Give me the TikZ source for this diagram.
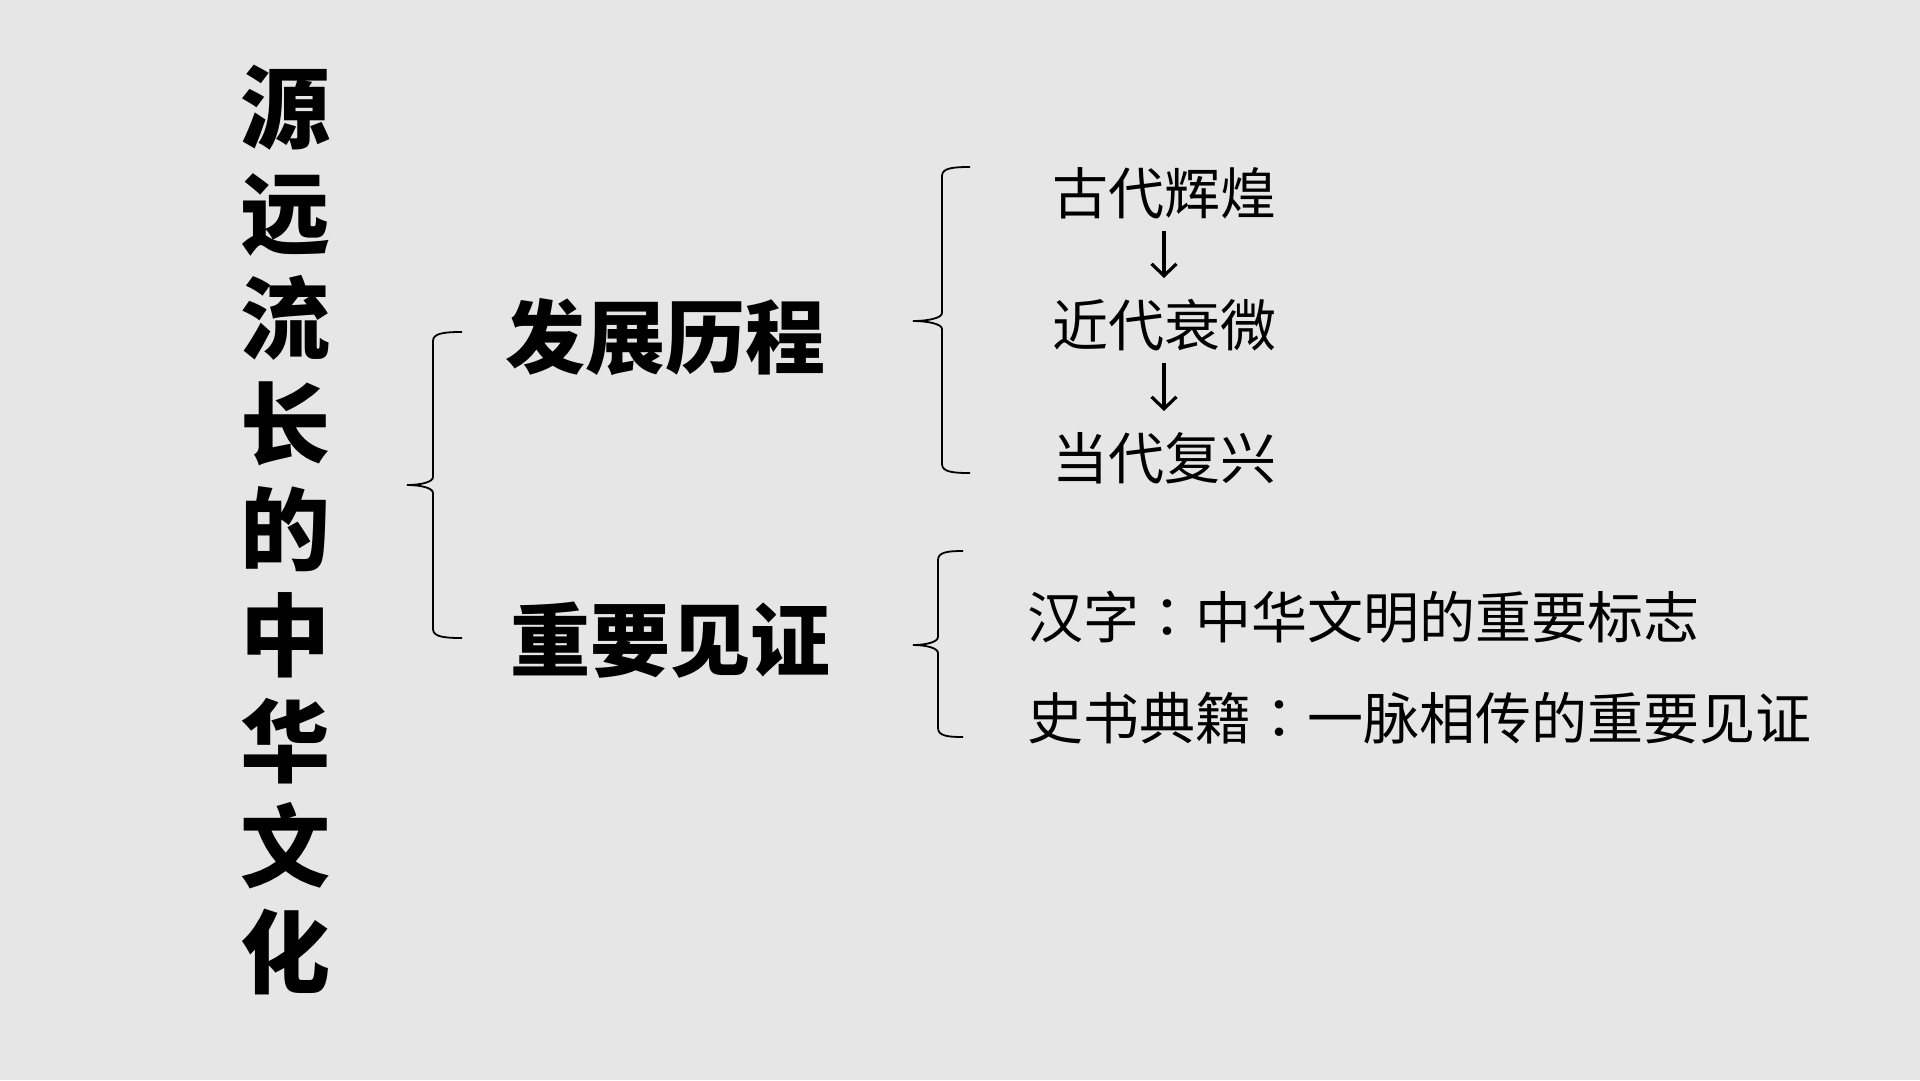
\documentclass[tikz,border=0pt]{standalone}
\usepackage{fontspec}
\newfontfamily\cjk{Noto Sans CJK SC}
\newfontfamily\cjktc{Noto Sans CJK TC}
\newcommand{\midcolon}{{\cjktc ：}}
\usetikzlibrary{arrows.meta}
\definecolor{bg}{RGB}{230,230,230}
\tikzset{
  titletext/.style={inner sep=0pt, align=center, font=\cjk\bfseries\fontsize{90}{105.6}\selectfont},
  headtext/.style={inner sep=0pt, font=\cjk\bfseries\fontsize{80}{90}\selectfont},
  itemtext/.style={inner sep=0pt, font=\cjk\fontsize{56}{66}\selectfont},
  bracepath/.style={line width=1.8pt, black},
  flowarrow/.style={line width=3.2pt, -{Straight Barb[length=12pt,width=25pt,line width=3.2pt]}, shorten <=38pt, shorten >=47pt}
}
\begin{document}
\begin{tikzpicture}[x=1pt,y=-1pt]
\useasboundingbox (0,0) rectangle (1920,1080);
\fill[bg] (0,0) rectangle (1920,1080);

% vertical title
\node[titletext] (title) at (285,530) {源\\远\\流\\长\\的\\中\\华\\文\\化};

% headings
\node[headtext] (h1) at (665,337) {发展历程};
\node[headtext] (h2) at (670,640) {重要见证};

% development items
\node[itemtext] (p1) at (1164,193) {古代辉煌};
\node[itemtext] (p2) at (1164,325) {近代衰微};
\node[itemtext] (p3) at (1164,458) {当代复兴};
\draw[flowarrow] (p1.center) -- (p2.center);
\draw[flowarrow] (p2.center) -- (p3.center);

% witness items
\node[itemtext, anchor=west] (w1) at (1027,617) {汉字\midcolon 中华文明的重要标志};
\node[itemtext, anchor=west] (w2) at (1027,718) {史书典籍\midcolon 一脉相传的重要见证};

% big brace
\draw[bracepath] (462,332) .. controls (445,332) and (433,333) .. (433,341)
  -- (433,477) .. controls (433,482) and (421,485) .. (407,485)
  .. controls (421,485) and (433,488) .. (433,493)
  -- (433,629) .. controls (433,637) and (445,638) .. (462,638);

% brace for development
\draw[bracepath] (970,167) .. controls (953,167) and (942,168) .. (942,176)
  -- (942,313) .. controls (942,318) and (928,321) .. (913,321)
  .. controls (928,321) and (942,324) .. (942,329)
  -- (942,464) .. controls (942,472) and (953,473) .. (970,473);

% brace for witness
\draw[bracepath] (963,551) .. controls (948,551) and (938,552) .. (938,560)
  -- (938,637) .. controls (938,642) and (926,645) .. (913,645)
  .. controls (926,645) and (938,648) .. (938,653)
  -- (938,728) .. controls (938,736) and (948,737) .. (963,737);
\end{tikzpicture}
\end{document}
